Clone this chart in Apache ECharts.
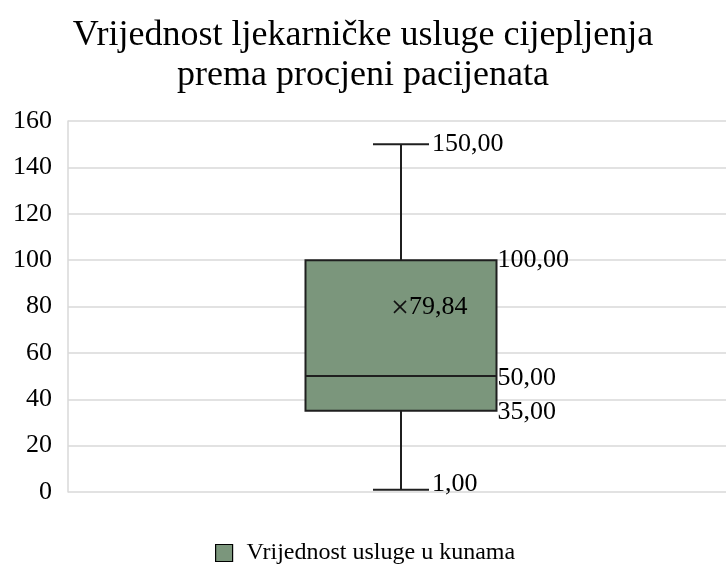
<!DOCTYPE html>
<html>
<head>
<meta charset="utf-8">
<script src="https://cdn.jsdelivr.net/npm/echarts@6/dist/echarts.min.js"></script>
<style>html,body{margin:0;padding:0;background:#fff}#c{width:726px;height:564px}</style>
</head>
<body>
<div id="c"></div>
<script>
const categories = ['Vrijednost usluge u kunama'];
const minVals = [1];
const q1Vals = [35];
const medianVals = [50];
const q3Vals = [100];
const maxVals = [150];
const meanVals = [79.84];
const yTicks = [0, 20, 40, 60, 80, 100, 120, 140, 160];

const FONT = '"Liberation Serif", "Times New Roman", serif';
const BOX_COLOR = '#7b967c';
const LINE_COLOR = '#1f1f1f';
const fmt = v => v.toFixed(2).replace('.', ',');

const seriesData = categories.map((c, i) => [i, minVals[i], q1Vals[i], medianVals[i], q3Vals[i], maxVals[i], meanVals[i]]);

function renderItem(params, api) {
  const idx = api.value(0);
  const band = api.size([1, 0])[0];
  const boxW = band * 0.2868;
  const capW = band * 0.0841;
  const pMin = api.coord([idx, api.value(1)]);
  const pQ1 = api.coord([idx, api.value(2)]);
  const pMed = api.coord([idx, api.value(3)]);
  const pQ3 = api.coord([idx, api.value(4)]);
  const pMax = api.coord([idx, api.value(5)]);
  const pMean = api.coord([idx, api.value(6)]);
  const cx = pMin[0];
  const lineStyle = {stroke: LINE_COLOR, lineWidth: 2};
  const txt = (x, y, s, dy) => ({
    type: 'text', x: x, y: y + (dy || 0),
    style: {text: s, fontFamily: FONT, fontSize: 26, fill: '#000', textAlign: 'left', textVerticalAlign: 'middle'}
  });
  const m = 6;
  return {
    type: 'group',
    children: [
      {type: 'line', shape: {x1: cx, y1: pQ3[1], x2: cx, y2: pMax[1]}, style: lineStyle},
      {type: 'line', shape: {x1: cx, y1: pQ1[1], x2: cx, y2: pMin[1]}, style: lineStyle},
      {type: 'line', shape: {x1: cx - capW / 2, y1: pMax[1], x2: cx + capW / 2, y2: pMax[1]}, style: lineStyle},
      {type: 'line', shape: {x1: cx - capW / 2, y1: pMin[1], x2: cx + capW / 2, y2: pMin[1]}, style: lineStyle},
      {type: 'rect', shape: {x: cx - boxW / 2, y: pQ3[1], width: boxW, height: pQ1[1] - pQ3[1]},
        style: {fill: BOX_COLOR, stroke: LINE_COLOR, lineWidth: 2}},
      {type: 'line', shape: {x1: cx - boxW / 2, y1: pMed[1], x2: cx + boxW / 2, y2: pMed[1]}, style: lineStyle},
      {type: 'line', shape: {x1: cx - 1 - m, y1: pMean[1] - m, x2: cx - 1 + m, y2: pMean[1] + m}, style: {stroke: '#111', lineWidth: 1.6}},
      {type: 'line', shape: {x1: cx - 1 - m, y1: pMean[1] + m, x2: cx - 1 + m, y2: pMean[1] - m}, style: {stroke: '#111', lineWidth: 1.6}},
      txt(cx + capW / 2 + 3, pMax[1], fmt(api.value(5))),
      txt(cx + boxW / 2 + 1, pQ3[1], fmt(api.value(4))),
      txt(cx + boxW / 2 + 1, pMed[1], fmt(api.value(3)), 2),
      txt(cx + boxW / 2 + 1, pQ1[1], fmt(api.value(2)), 1),
      txt(cx + capW / 2 + 3, pMin[1], fmt(api.value(1)), -6),
      txt(cx + 8, pMean[1], fmt(api.value(6)))
    ]
  };
}

const chart = echarts.init(document.getElementById('c'));
chart.setOption({
  animation: false,
  title: {
    text: 'Vrijednost ljekarničke usluge cijepljenja\nprema procjeni pacijenata',
    left: 'center', top: 11,
    textStyle: {fontFamily: FONT, fontSize: 36, fontWeight: 'normal', color: '#000', lineHeight: 40}
  },
  legend: {
    data: [categories[0]], left: 210, top: 536,
    icon: 'rect', itemWidth: 17, itemHeight: 17, itemGap: 8,
    itemStyle: {borderColor: '#000', borderWidth: 1.2},
    textStyle: {fontFamily: FONT, fontSize: 24, color: '#000', padding: [0, 0, 0, 9]}
  },
  grid: {left: 68, right: -8, top: 121, bottom: 72, containLabel: false, outerBoundsMode: 'none'},
  xAxis: {
    type: 'category', data: categories,
    axisLine: {show: false}, axisTick: {show: false}, axisLabel: {show: false}
  },
  yAxis: {
    type: 'value', min: yTicks[0], max: yTicks[yTicks.length - 1], interval: 20,
    axisLine: {show: true, lineStyle: {color: '#d9d9d9', width: 1.5}},
    axisTick: {show: false},
    axisLabel: {fontFamily: FONT, fontSize: 26, color: '#000', margin: 16},
    splitLine: {lineStyle: {color: '#d9d9d9', width: 1.5}}
  },
  series: [{
    name: categories[0], type: 'custom', renderItem: renderItem,
    itemStyle: {color: BOX_COLOR},
    data: seriesData
  }]
});
</script>
</body>
</html>
